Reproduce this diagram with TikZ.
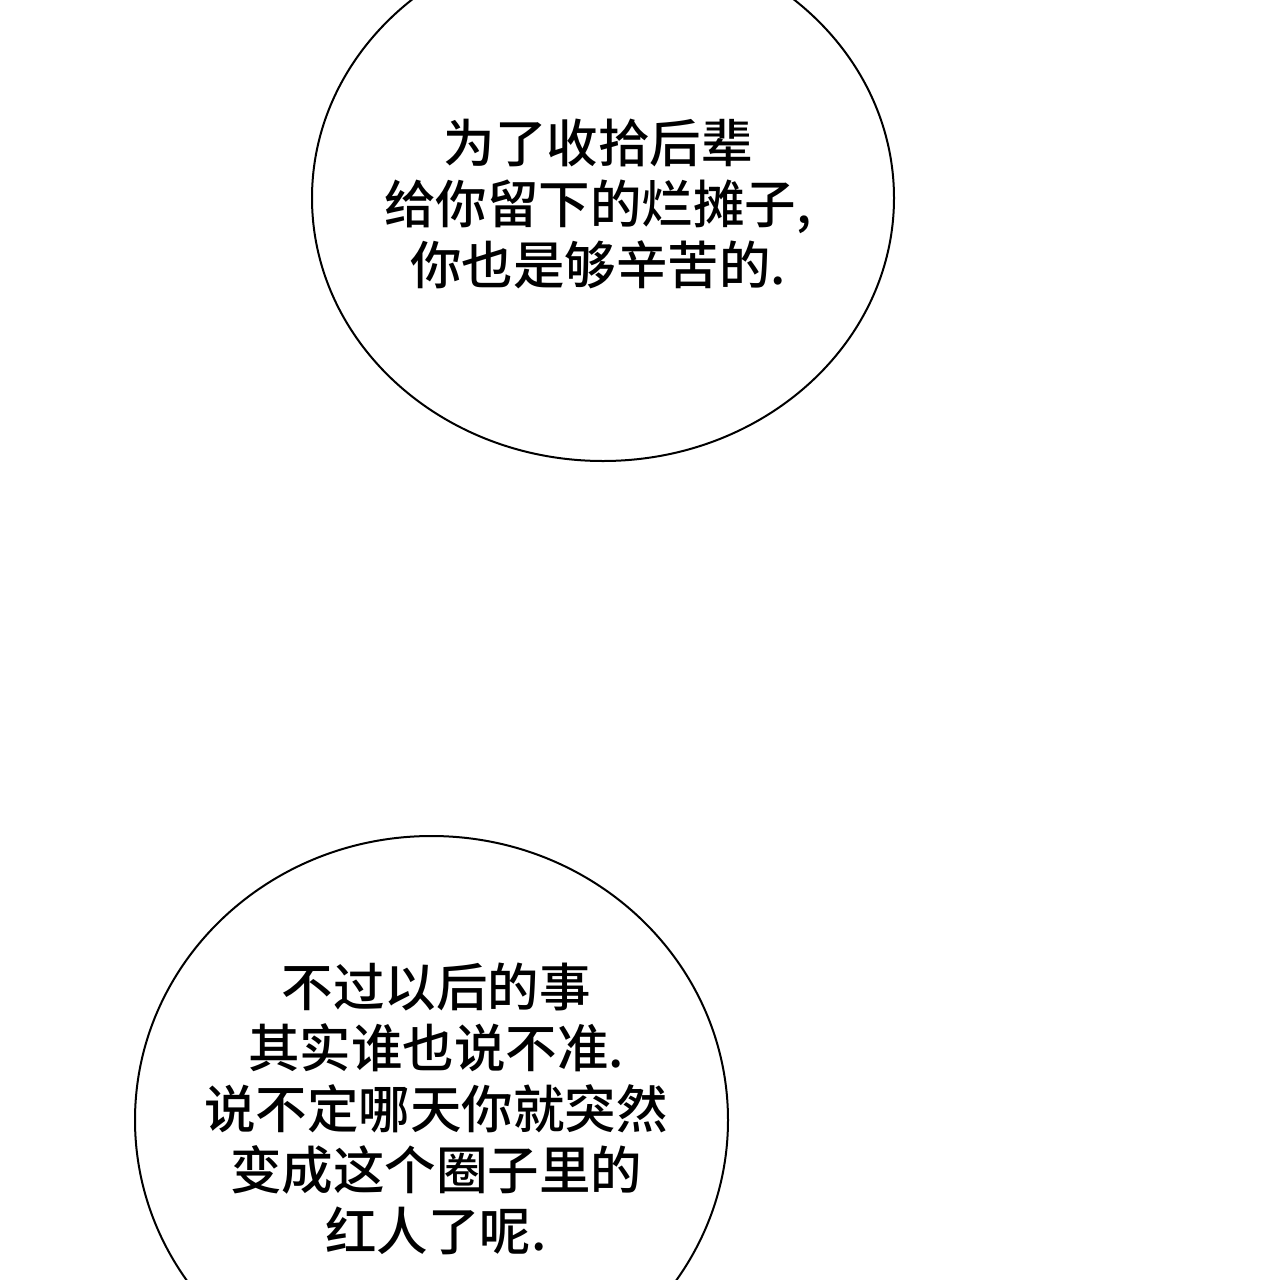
\documentclass[tikz,border=0pt]{standalone}
\usepackage{fontspec}
\newfontfamily\cjk{Noto Sans CJK SC}[UprightFont=* Medium]
\usepackage{tikz}
\usetikzlibrary{shapes.geometric}
\tikzset{every bubble/.style={ellipse, draw=black, line width=2pt, fill=white, inner sep=0pt}}
\tikzset{bubble/.style={every bubble},inner sep=0pt}
\tikzset{speech/.style={align=center, font=\cjk\fontsize{51.5}{61}\selectfont, inner sep=0pt}}

\begin{document}
\begin{tikzpicture}[x=1pt, y=-1pt]
\useasboundingbox (0,0) rectangle (1280,1280);
\clip (0,0) rectangle (1280,1280);
%--------------------
% upper bubble
%--------------------
\node[bubble, minimum width=582pt, minimum height=526pt](upper) at (603,198){};
\node[speech](uppertext) at (598,204){为了收拾后辈\\给你留下的烂摊子,\\你也是够辛苦的.};

%--------------------
% lower bubble
%--------------------
\node[bubble, minimum width=593pt, minimum height=568pt](lower) at (431.5,1120){};
\node[speech](lowertext) at (436,1109){不过以后的事\\其实谁也说不准.\\说不定哪天你就突然\\变成这个圈子里的\\红人了呢.};
\end{tikzpicture}
\end{document}
